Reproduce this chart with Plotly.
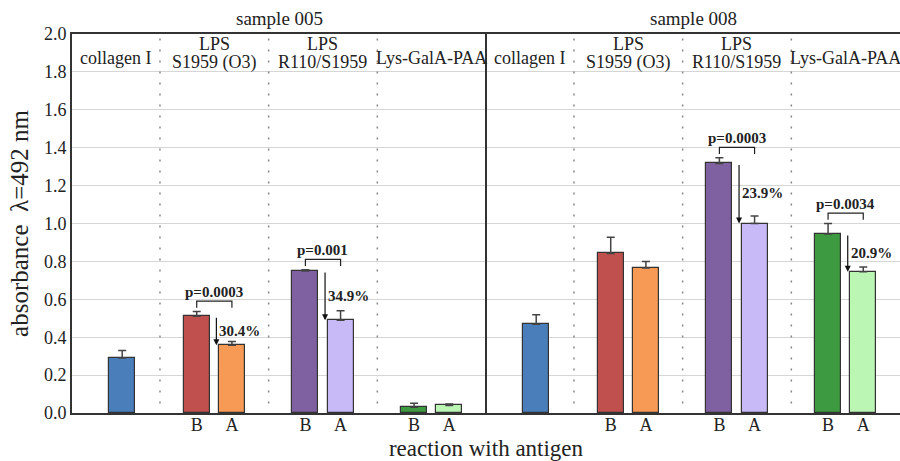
import plotly.graph_objects as go

# ---------------- data ----------------
samples = ["sample 005", "sample 008"]
antigen_line1 = ["collagen I", "LPS", "LPS", "Lys-GalA-PAA"]
antigen_line2 = ["", "S1959 (O3)", "R110/S1959", ""]
bar_labels = ["B", "A"]

collagen_vals = [0.29, 0.468]
collagen_err = [0.04, 0.05]

# B / A values for the three paired antigens (LPS S1959, LPS R110/S1959, Lys-GalA-PAA)
s005_B = [0.51, 0.75, 0.03]
s005_B_err = [0.025, 0.006, 0.022]
s005_A = [0.357, 0.489, 0.04]
s005_A_err = [0.02, 0.05, 0.008]

s008_B = [0.842, 1.317, 0.945]
s008_B_err = [0.085, 0.03, 0.055]
s008_A = [0.765, 1.0, 0.745]
s008_A_err = [0.035, 0.04, 0.025]

s005_p = ["p=0.0003", "p=0.001", None]
s005_pct = ["30.4%", "34.9%", None]
s008_p = [None, "p=0.0003", "p=0.0034"]
s008_pct = [None, "23.9%", "20.9%"]

y_ticks = [0.0, 0.2, 0.4, 0.6, 0.8, 1.0, 1.2, 1.4, 1.6, 1.8, 2.0]

# ---------------- style ----------------
FONT = "Times New Roman, Liberation Serif, Times, serif"
TXT = "#222222"
collagen_color = "#4a7ebb"
B_colors = ["#c0504d", "#7f60a1", "#3d9a40"]
A_colors = ["#f79a55", "#c8b9f7", "#bcf6b5"]
group_widths = [0.85, 1.05, 1.05, 1.05]
half_gap = 0.17
bar_w = 0.25
collagen_offset = 0.06

B_all = [s005_B, s008_B]
Be_all = [s005_B_err, s008_B_err]
A_all = [s005_A, s008_A]
Ae_all = [s005_A_err, s008_A_err]
p_all = [s005_p, s008_p]
pct_all = [s005_pct, s008_pct]

fig = go.Figure()
annotations = []
shapes = []
tickvals, ticktext = [], []

for s in range(len(samples)):
    base = s * 4.0
    edges = [base]
    for w in group_widths:
        edges.append(edges[-1] + w)
    centers = [(edges[i] + edges[i + 1]) / 2 for i in range(4)]

    # collagen bar
    fig.add_trace(go.Bar(
        x=[centers[0] + collagen_offset], y=[collagen_vals[s]], width=bar_w,
        marker=dict(color=collagen_color, line=dict(color="#333333", width=1.2)),
        error_y=dict(type="data", symmetric=False, array=[collagen_err[s]], arrayminus=[0],
                     color="#444444", thickness=1.5, width=4),
        showlegend=False, hoverinfo="y"))

    for k in range(3):
        c = centers[k + 1]
        xb, xa = c - half_gap, c + half_gap
        b, a = B_all[s][k], A_all[s][k]
        eb, ea = Be_all[s][k], Ae_all[s][k]
        fig.add_trace(go.Bar(
            x=[xb], y=[b], width=bar_w,
            marker=dict(color=B_colors[k], line=dict(color="#333333", width=1.2)),
            error_y=dict(type="data", symmetric=False, array=[eb], arrayminus=[0],
                         color="#444444", thickness=1.5, width=4),
            showlegend=False, hoverinfo="y"))
        fig.add_trace(go.Bar(
            x=[xa], y=[a], width=bar_w,
            marker=dict(color=A_colors[k], line=dict(color="#333333", width=1.2)),
            error_y=dict(type="data", symmetric=False, array=[ea], arrayminus=[0],
                         color="#444444", thickness=1.5, width=4),
            showlegend=False, hoverinfo="y"))
        tickvals += [xb, xa]
        ticktext += bar_labels

        if p_all[s][k]:
            yb = max(b + eb, a + ea) + 0.055
            fig.add_trace(go.Scatter(
                x=[xb, xb, xa, xa], y=[yb - 0.035, yb, yb, yb - 0.035],
                mode="lines", line=dict(color="#222222", width=1.2),
                showlegend=False, hoverinfo="skip"))
            annotations.append(dict(x=c, y=yb, text="<b>" + p_all[s][k] + "</b>",
                                    showarrow=False, yanchor="bottom", yshift=-1,
                                    font=dict(family=FONT, size=15, color=TXT)))
        if pct_all[s][k]:
            xarr = c + 0.02
            annotations.append(dict(x=xarr, y=a, ax=xarr, ay=b, axref="x", ayref="y",
                                    text="", showarrow=True, arrowhead=2, arrowsize=1,
                                    arrowwidth=1.2, arrowcolor="#111111", standoff=0,
                                    startstandoff=0))
            annotations.append(dict(x=xarr, y=(a + b) / 2, text="<b>" + pct_all[s][k] + "</b>",
                                    showarrow=False, xanchor="left", xshift=1,
                                    yanchor="middle",
                                    font=dict(family=FONT, size=15, color=TXT)))

    # group headers
    for g in range(4):
        if antigen_line2[g]:
            annotations.append(dict(x=centers[g], y=1.945, text=antigen_line1[g], showarrow=False,
                                    yanchor="middle", font=dict(family=FONT, size=18, color=TXT)))
            annotations.append(dict(x=centers[g], y=1.85, text=antigen_line2[g], showarrow=False,
                                    yanchor="middle", font=dict(family=FONT, size=18, color=TXT)))
        else:
            annotations.append(dict(x=centers[g], y=1.873, text=antigen_line1[g], showarrow=False,
                                    yanchor="middle", font=dict(family=FONT, size=18, color=TXT)))
    # dotted separators
    for e in edges[1:4]:
        shapes.append(dict(type="line", x0=e, x1=e, y0=0.05, y1=2.0, xref="x", yref="y",
                           line=dict(color="#888888", width=1.5, dash="2px,9px"), layer="above"))
    # sample header
    annotations.append(dict(x=base + 2.0, y=1.0, xref="x", yref="paper", text=samples[s],
                            showarrow=False, yanchor="bottom", yshift=3,
                            font=dict(family=FONT, size=19, color=TXT)))

# divider between samples
shapes.append(dict(type="line", x0=4.0, x1=4.0, y0=0, y1=2.0, xref="x", yref="y",
                   line=dict(color="#333333", width=2), layer="above"))

fig.update_layout(
    width=900, height=461,
    margin=dict(l=72, r=0, t=34, b=48),
    paper_bgcolor="white", plot_bgcolor="white",
    barmode="overlay", bargap=0,
    annotations=annotations, shapes=shapes,
    font=dict(family=FONT, color=TXT),
    xaxis=dict(range=[0, 8], tickvals=tickvals, ticktext=ticktext,
               showline=True, linecolor="#333333", linewidth=2, mirror=True,
               showgrid=False, zeroline=False, ticks="",
               ticklabelstandoff=-6,
               tickfont=dict(family=FONT, size=18, color=TXT),
               title=dict(text="reaction with antigen", standoff=8,
                          font=dict(family=FONT, size=23, color=TXT))),
    yaxis=dict(range=[0, 2.0], tickvals=y_ticks, tickformat=".1f",
               showline=True, linecolor="#333333", linewidth=2,
               showgrid=True, gridcolor="#d6d6d6", gridwidth=1, zeroline=False, ticks="",
               tickfont=dict(family=FONT, size=18, color=TXT),
               title=dict(text="absorbance  λ=492 nm", standoff=8,
                          font=dict(family=FONT, size=25, color=TXT))),
)

fig.write_html("out.html")
